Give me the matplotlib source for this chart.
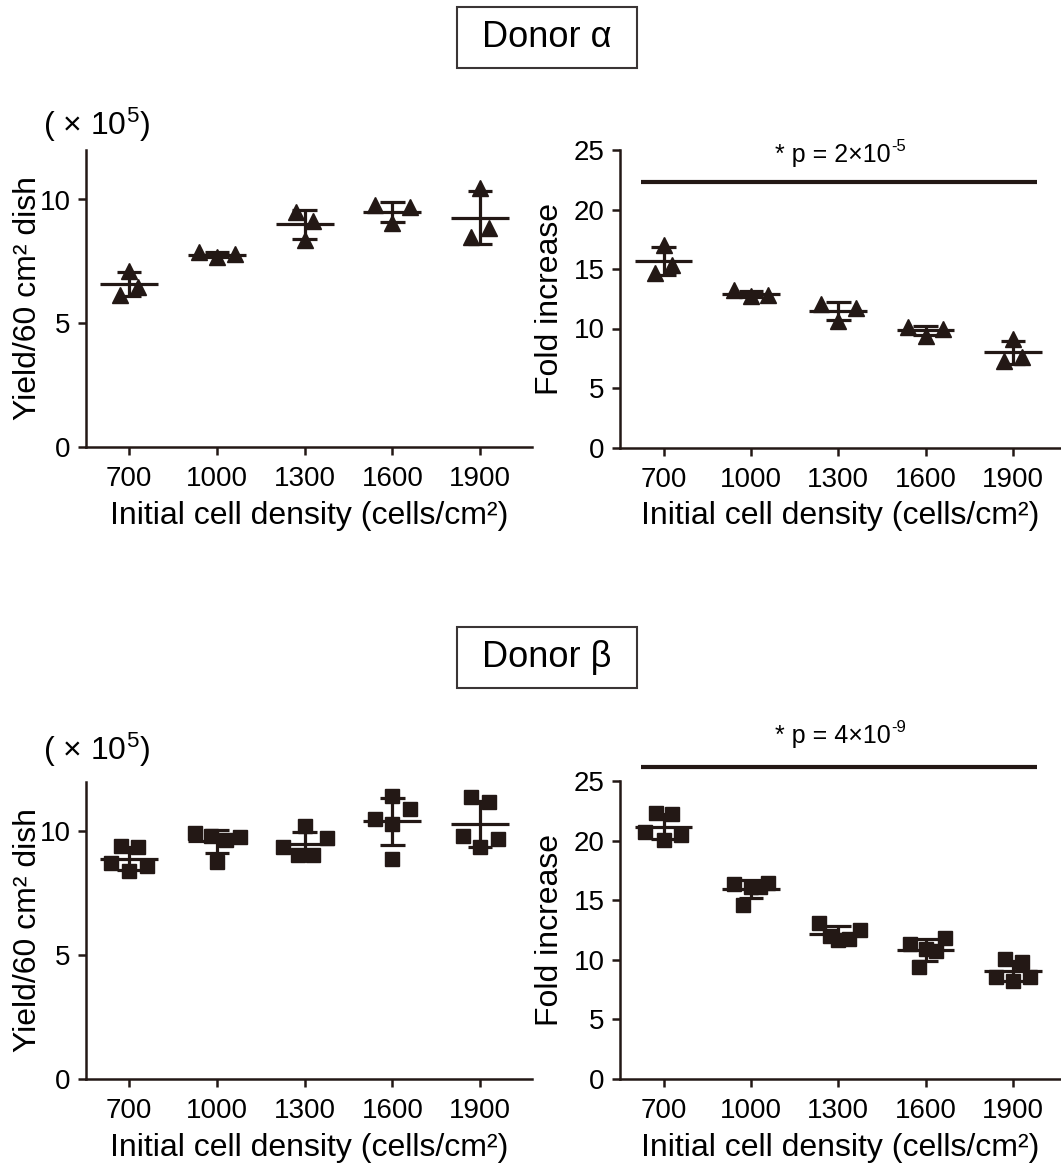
import numpy as np
import matplotlib
matplotlib.use("Agg")
import matplotlib.pyplot as plt
from matplotlib.patches import Rectangle

plt.rcParams['font.family'] = ['Liberation Sans', 'DejaVu Sans']
plt.rcParams['mathtext.fontset'] = 'custom'
plt.rcParams['mathtext.rm'] = 'Liberation Sans'
plt.rcParams['mathtext.it'] = 'Liberation Sans:italic'
plt.rcParams['mathtext.bf'] = 'Liberation Sans:bold'

# ---------------- data ----------------
densities = ["700", "1000", "1300", "1600", "1900"]

alpha_yield = [
    [7.10, 6.15, 6.46],
    [7.86, 7.66, 7.80],
    [9.50, 9.12, 8.35],
    [9.77, 9.69, 9.05],
    [10.47, 8.47, 8.85],
]
alpha_fold = [
    [17.0, 14.7, 15.3],
    [13.2, 12.7, 12.85],
    [12.1, 10.6, 11.7],
    [10.1, 9.4, 10.0],
    [9.1, 7.3, 7.6],
]
beta_yield = [
    [8.72, 9.39, 8.38, 9.35, 8.58],
    [9.93, 9.80, 8.75, 9.66, 9.77],
    [9.35, 9.03, 10.20, 9.03, 9.73],
    [10.50, 11.42, 10.30, 8.88, 10.90],
    [9.82, 11.39, 9.34, 11.17, 9.70],
]
beta_fold = [
    [20.70, 22.34, 20.05, 22.23, 20.47],
    [16.33, 14.60, 16.13, 16.13, 16.47],
    [13.10, 12.00, 11.66, 11.72, 12.50],
    [11.30, 9.42, 10.88, 10.77, 11.86],
    [8.58, 10.04, 8.22, 9.84, 8.53],
]
alpha_p_text = ("* p = 2×10", "-5")
beta_p_text = ("* p = 4×10", "-9")

# ---------------- layout / style ----------------
jit_a_yield = [[0, -0.10, 0.10], [-0.20, 0, 0.21], [-0.10, 0.10, 0], [-0.20, 0.20, 0], [0, -0.10, 0.10]]
jit_a_fold = [[0, -0.10, 0.10], [-0.20, 0, 0.20], [-0.20, 0, 0.20], [-0.20, 0, 0.20], [0, -0.10, 0.10]]
jit_b_yield = [[-0.2, -0.09, 0, 0.1, 0.2], [-0.25, -0.07, 0, 0.1, 0.26], [-0.25, -0.08, 0, 0.09, 0.25],
               [-0.2, 0, 0, 0, 0.2], [-0.2, -0.1, 0, 0.1, 0.2]]
jit_b_fold = [[-0.21, -0.09, 0, 0.1, 0.2], [-0.2, -0.09, 0, 0.1, 0.2], [-0.22, -0.1, 0, 0.12, 0.25],
              [-0.18, -0.08, 0, 0.12, 0.22], [-0.2, -0.09, 0, 0.1, 0.2]]

INK = '#231815'
W, H = 1061, 1166
fig = plt.figure(figsize=(W / 100, H / 100), dpi=100)


def px_axes(left, right, top, bottom):
    return fig.add_axes([left / W, 1 - bottom / H, (right - left) / W, (bottom - top) / H])


def panel(ax, data, jit, marker, ms, ylim, yticks, xlim, ylabel, ylabelpad):
    for i, (vals, jj) in enumerate(zip(data, jit)):
        vals = np.asarray(vals, float)
        xs = i + np.asarray(jj)
        ax.plot(xs, vals, linestyle='none', marker=marker, ms=ms, color=INK, mec=INK, zorder=3, clip_on=False)
        m = vals.mean()
        sd = vals.std(ddof=1)
        ax.plot([i - 0.33, i + 0.33], [m, m], color=INK, lw=2.3, solid_capstyle='butt', zorder=4)
        ax.plot([i, i], [m - sd, m + sd], color=INK, lw=2.3, solid_capstyle='butt', zorder=4)
        for yy in (m - sd, m + sd):
            ax.plot([i - 0.14, i + 0.14], [yy, yy], color=INK, lw=2.3, solid_capstyle='butt', zorder=4)
    ax.set_xlim(*xlim)
    ax.set_ylim(*ylim)
    ax.set_yticks(yticks)
    ax.set_xticks(range(len(densities)))
    ax.set_xticklabels(densities)
    for s in ('top', 'right'):
        ax.spines[s].set_visible(False)
    for s in ('left', 'bottom'):
        ax.spines[s].set_linewidth(1.8)
        ax.spines[s].set_color(INK)
    ax.tick_params(axis='both', direction='out', length=6, width=1.8, color=INK, labelsize=20, pad=5)
    ax.tick_params(axis='x', pad=8)
    ax.set_xlabel("Initial cell density (cells/cm²)", fontsize=23, labelpad=6)
    ax.set_ylabel(ylabel, fontsize=23, labelpad=ylabelpad)


axA = px_axes(86, 532, 150, 447)
axB = px_axes(620, 1061, 150, 447.5)
axC = px_axes(86, 532, 781.5, 1079)
axD = px_axes(620, 1061, 781, 1079)

panel(axA, alpha_yield, jit_a_yield, '^', 11, (0, 12), [0, 5, 10], (-0.49, 4.59), "Yield/60 cm² dish", -2)
panel(axB, alpha_fold, jit_a_fold, '^', 11, (0, 25), [0, 5, 10, 15, 20, 25], (-0.50, 4.55), "Fold increase", 6)
panel(axC, beta_yield, jit_b_yield, 's', 10, (0, 12), [0, 5, 10], (-0.49, 4.59), "Yield/60 cm² dish", -2)
panel(axD, beta_fold, jit_b_fold, 's', 10, (0, 25), [0, 5, 10, 15, 20, 25], (-0.50, 4.55), "Fold increase", 6)


def p_label(ax, y_line, y_text, parts):
    ax.plot([-0.26, 4.28], [y_line, y_line], color=INK, lw=3, solid_capstyle='butt', clip_on=False)
    main, sup = parts
    t = ax.text(2.6, y_text, main, ha='right', va='center', fontsize=18, color='black', clip_on=False)
    ax.annotate(sup, xy=(1, 1), xycoords=t, xytext=(0.5, 3), textcoords='offset points',
                ha='left', va='top', fontsize=12, color='black', annotation_clip=False)


p_label(axB, 22.3, 24.6, alpha_p_text)
p_label(axD, 26.2, 28.8, beta_p_text)

# (x10^5) labels
fig.text(97 / W, 1 - 125 / H, r"( × 10$^{5}$)", ha='center', va='center', fontsize=23)
fig.text(97 / W, 1 - 750 / H, r"( × 10$^{5}$)", ha='center', va='center', fontsize=23)

# donor boxes
for label, cy in (("Donor α", 37.5), ("Donor β", 657.5)):
    bw, bh = 180, 61
    fig.patches.append(Rectangle(((547 - bw / 2) / W, 1 - (cy + bh / 2) / H), bw / W, bh / H,
                                 transform=fig.transFigure, fill=False, edgecolor='#3a3535', lw=1.5))
    fig.text(547 / W, 1 - cy / H, label, ha='center', va='center', fontsize=26)

fig.savefig("out.png", dpi=100)
